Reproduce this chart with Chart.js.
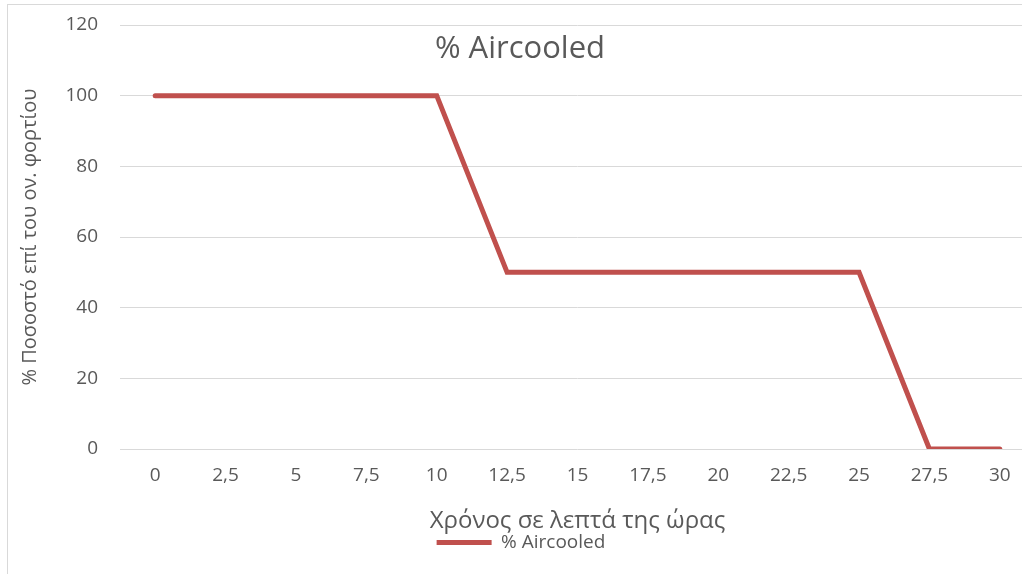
<!DOCTYPE html>
<html>
<head>
<meta charset="utf-8">
<script src="https://cdn.jsdelivr.net/npm/chart.js@4"></script>
<style>
  html, body { margin: 0; padding: 0; background: #fff; overflow: hidden; }
  #wrap { position: absolute; left: 0; top: 0; width: 1040px; height: 574px; }
  #frameTop { position: absolute; left: 7px; top: 4px; width: 1030px; height: 1px; background: #d9d9d9; }
  #frameLeft { position: absolute; left: 7px; top: 4px; width: 1px; height: 580px; background: #d9d9d9; }
</style>
</head>
<body>
<div id="wrap"><canvas id="chart" width="1040" height="574"></canvas></div>
<div id="frameTop"></div>
<div id="frameLeft"></div>
<script>
// Chart data
const minutes = ['0', '2,5', '5', '7,5', '10', '12,5', '15', '17,5', '20', '22,5', '25', '27,5', '30'];
const aircooled = [100, 100, 100, 100, 100, 50, 50, 50, 50, 50, 50, 0, 0];
const yTicks = [0, 20, 40, 60, 80, 100, 120];

const FONT = "'Open Sans', 'Noto Sans', sans-serif";
const TEXT = '#595959';

/**
 * Title drawn inside the plot area, centred on the chart
 */
const innerTitle = {
    id: 'innerTitle',
    afterDraw(chart) {
        const ctx = chart.ctx;
        ctx.save();
        ctx.font = '31px ' + FONT;
        ctx.fillStyle = TEXT;
        ctx.textAlign = 'center';
        ctx.textBaseline = 'middle';
        ctx.fillText('% Aircooled', 520, 49);
        ctx.restore();
    }
};

new Chart(document.getElementById('chart'), {
    type: 'line',
    data: {
        labels: minutes,
        datasets: [{
            label: '% Aircooled',
            data: aircooled,
            borderColor: '#c0504d',
            backgroundColor: '#c0504d',
            borderWidth: 5,
            borderCapStyle: 'round',
            borderJoinStyle: 'miter',
            pointRadius: 0,
            tension: 0
        }]
    },
    options: {
        responsive: false,
        animation: false,
        layout: { padding: { left: 7, right: 5, top: 25, bottom: 12 } },
        plugins: {
            tooltip: { enabled: false },
            legend: {
                position: 'bottom',
                padding: 0,
                labels: {
                    usePointStyle: true,
                    pointStyle: 'line',
                    pointStyleWidth: 55,
                    padding: 0,
                    color: TEXT,
                    font: { family: FONT, size: 19 }
                }
            }
        },
        scales: {
            x: {
                offset: true,
                grid: { display: false, drawTicks: false },
                border: { display: false },
                ticks: {
                    color: TEXT,
                    padding: 15,
                    maxRotation: 0,
                    font: { family: FONT, size: 19 }
                },
                title: {
                    display: true,
                    text: 'Χρόνος σε λεπτά της ώρας',
                    color: TEXT,
                    padding: 0,
                    font: { family: FONT, size: 24, lineHeight: 1 }
                },
                afterFit(scale) { scale.height = 84; }
            },
            y: {
                min: 0,
                max: 120,
                afterBuildTicks(scale) { scale.ticks = yTicks.map(v => ({ value: v })); },
                grid: { color: '#d9d9d9', lineWidth: 1, drawTicks: false },
                border: { display: false },
                ticks: {
                    color: TEXT,
                    padding: 22,
                    font: { family: FONT, size: 19 }
                },
                title: {
                    display: true,
                    text: '% Ποσοστό επί του ον. φορτίου',
                    color: TEXT,
                    padding: { top: 11, bottom: 0 },
                    font: { family: FONT, size: 20 }
                },
                afterFit(scale) {
                    scale.width = 113;
                    scale.paddingTop = 0;
                    scale.paddingBottom = 0;
                }
            }
        }
    },
    plugins: [innerTitle]
});
</script>
</body>
</html>
